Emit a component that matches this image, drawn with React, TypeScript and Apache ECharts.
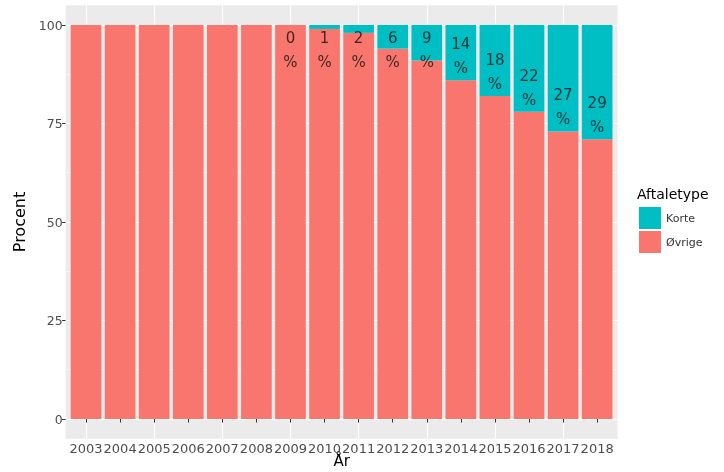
import React, { useEffect, useRef } from "react";
import * as echarts from "echarts";

const years = ["2003","2004","2005","2006","2007","2008","2009","2010","2011","2012","2013","2014","2015","2016","2017","2018"];
const korte = [null,null,null,null,null,null,0,1,2,6,9,14,18,22,27,29];
const ovrige = [100,100,100,100,100,100,100,99,98,94,91,86,82,78,73,71];
const yTicks = [0, 25, 50, 75, 100];

const PANEL_L = 65.6;
const PANEL_W = 552;
const PANEL_T = 5.3;
const PANEL_H = 433.4;
const BAND = PANEL_W / 16.2;
const FONT = "DejaVu Sans";

export default function App() {
  const ref = useRef<HTMLDivElement>(null);
  useEffect(() => {
    if (!ref.current) return;
    const chart = echarts.init(ref.current, null, { renderer: "svg" });
    const yMin = yTicks[0];
    const yMax = yTicks[yTicks.length - 1];
    const unit = (PANEL_H / 1.1) / (yMax - yMin);
    const mainTop = PANEL_T + 0.05 * (yMax - yMin) * unit;
    const mainH = (yMax - yMin) * unit;
    const mainL = PANEL_L + 0.1 * BAND;
    const mainW = 16 * BAND;
    const gb = { outerBoundsMode: "none", containLabel: false };

    const labelData = years.map((y, i) =>
      korte[i] === null ? null : [y, Math.min(ovrige[i], 87.5)]
    );

    chart.setOption({
      animation: false,
      textStyle: { fontFamily: FONT },
      title: {
        text: "Aftaletype",
        left: 637,
        top: 187,
        padding: 0,
        textStyle: { fontSize: 14, fontWeight: "normal", color: "#000", fontFamily: FONT },
      },
      legend: {
        orient: "vertical",
        left: 639,
        top: 207,
        padding: 0,
        itemWidth: 22,
        itemHeight: 22,
        itemGap: 2,
        icon: "rect",
        data: ["Korte", "Øvrige"],
        textStyle: { fontSize: 11, color: "#333", fontFamily: FONT },
      },
      grid: [
        { ...gb, left: PANEL_L, top: PANEL_T, width: PANEL_W, height: PANEL_H, show: true, backgroundColor: "#EBEBEB", borderWidth: 0, z: -1 },
        { ...gb, left: mainL + 0.5 * BAND, top: PANEL_T, width: 15 * BAND, height: PANEL_H },
        { ...gb, left: PANEL_L, top: mainTop, width: PANEL_W, height: mainH },
        { ...gb, left: mainL, top: mainTop, width: mainW, height: mainH },
      ],
      xAxis: [
        { gridIndex: 0, type: "value", min: 0, max: 1, show: false },
        {
          gridIndex: 1, type: "category", data: years, boundaryGap: false,
          axisLine: { show: false }, axisTick: { show: false }, axisLabel: { show: false },
          splitLine: { show: true, lineStyle: { color: "#FFFFFF", width: 1.1 } },
        },
        { gridIndex: 2, type: "value", min: 0, max: 1, show: false },
        {
          gridIndex: 3, type: "category", data: years, position: "bottom",
          offset: 0.05 * (yMax - yMin) * unit,
          axisLine: { show: false },
          axisTick: { show: true, alignWithLabel: true, length: 3.5, lineStyle: { color: "#333", width: 1 } },
          axisLabel: { color: "#4D4D4D", fontSize: 13, margin: 3, interval: 0 },
          splitLine: { show: false },
          name: "År", nameLocation: "middle", nameGap: 15, nameMoveOverlap: false,
          nameTextStyle: { fontSize: 15, color: "#000", verticalAlign: "top" },
        },
      ],
      yAxis: [
        { gridIndex: 0, type: "value", min: 0, max: 1, show: false },
        { gridIndex: 1, type: "value", min: 0, max: 1, show: false },
        {
          gridIndex: 2, type: "value", min: yMin, max: yMax, interval: 25,
          axisLine: { show: false }, axisTick: { show: false }, axisLabel: { show: false },
          splitLine: { show: true, lineStyle: { color: "#FFFFFF", width: 1.1 } },
          minorTick: { show: false, splitNumber: 2 },
          minorSplitLine: { show: true, lineStyle: { color: "#FFFFFF", width: 0.5 } },
        },
        {
          gridIndex: 3, type: "value", min: yMin, max: yMax, interval: 25,
          offset: 0.1 * BAND,
          axisLine: { show: false },
          axisTick: { show: true, length: 3.5, lineStyle: { color: "#333", width: 1 } },
          axisLabel: { color: "#4D4D4D", fontSize: 12.5, margin: 3 },
          splitLine: { show: false },
          name: "Procent", nameLocation: "middle", nameGap: 34, nameRotate: 90,
          nameTextStyle: { fontSize: 16, color: "#000" },
        },
      ],
      series: [
        {
          name: "Øvrige", type: "bar", stack: "a", xAxisIndex: 3, yAxisIndex: 3,
          barWidth: "90%", itemStyle: { color: "#F8766D" }, data: ovrige,
        },
        {
          name: "Korte", type: "bar", stack: "a", xAxisIndex: 3, yAxisIndex: 3,
          barWidth: "90%", itemStyle: { color: "#00BFC4" }, data: korte,
        },
        {
          name: "labels", type: "scatter", xAxisIndex: 3, yAxisIndex: 3,
          symbolSize: 0, silent: true, z: 5,
          data: labelData,
          label: {
            show: true, position: "top", distance: 0,
            fontSize: 15, lineHeight: 24, color: "#111", fontFamily: FONT,
            formatter: (p: any) => `${korte[p.dataIndex]}\n%`,
          },
        },
      ],
    });
    return () => chart.dispose();
  }, []);
  return <div ref={ref} style={{ position: "fixed", left: 0, top: 0, width: 724, height: 472 }} />;
}
